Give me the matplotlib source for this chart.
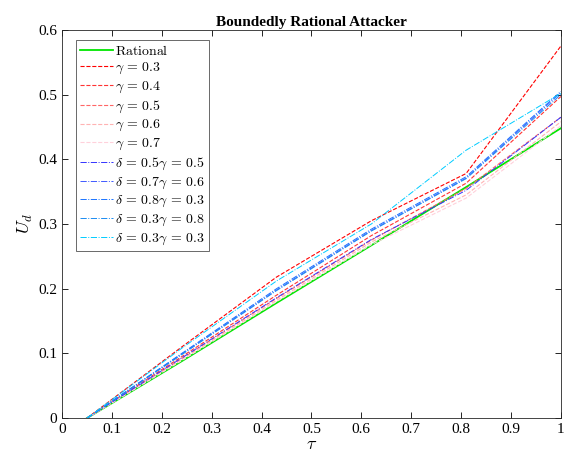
import matplotlib.pyplot as plt

plt.rcParams['font.family'] = ['Liberation Serif', 'DejaVu Serif']
plt.rcParams['mathtext.fontset'] = 'cm'

# tau sample points and attacker utility curves
tau = [0.05, 0.24, 0.43, 0.62, 0.81, 1.0]

rational = [0, 0.088, 0.178, 0.267, 0.357, 0.448]
gamma_03 = [0, 0.110, 0.218, 0.305, 0.378, 0.575]
gamma_04 = [0, 0.095, 0.190, 0.282, 0.363, 0.497]
gamma_05 = [0, 0.092, 0.185, 0.275, 0.355, 0.465]
gamma_06 = [0, 0.090, 0.182, 0.272, 0.345, 0.458]
gamma_07 = [0, 0.089, 0.180, 0.268, 0.340, 0.452]
d05_g05 = [0, 0.093, 0.186, 0.276, 0.352, 0.465]
d07_g06 = [0, 0.099, 0.198, 0.290, 0.371, 0.503]
d08_g03 = [0, 0.100, 0.200, 0.292, 0.373, 0.505]
d03_g08 = [0, 0.098, 0.197, 0.289, 0.370, 0.500]
d03_g03 = [0, 0.108, 0.212, 0.300, 0.414, 0.502]

series = [
    (rational, r'$\mathrm{Rational}$', (0.0, 0.9, 0.0), '-', 1.3),
    (gamma_03, r'$\gamma\,=\,0.3$', (1.0, 0.0, 0.0), '--', 0.8),
    (gamma_04, r'$\gamma\,=\,0.4$', (1.0, 0.2, 0.2), '--', 0.8),
    (gamma_05, r'$\gamma\,=\,0.5$', (1.0, 0.4, 0.4), '--', 0.8),
    (gamma_06, r'$\gamma\,=\,0.6$', (1.0, 0.7, 0.7), '--', 0.8),
    (gamma_07, r'$\gamma\,=\,0.7$', (1.0, 0.82, 0.86), '--', 0.8),
    (d05_g05, r'$\delta\,=\,0.5\gamma\,=\,0.5$', (0.2, 0.2, 1.0), '-.', 0.7),
    (d07_g06, r'$\delta\,=\,0.7\gamma\,=\,0.6$', (0.25, 0.35, 1.0), '-.', 0.7),
    (d08_g03, r'$\delta\,=\,0.8\gamma\,=\,0.3$', (0.1, 0.45, 1.0), '-.', 0.7),
    (d03_g08, r'$\delta\,=\,0.3\gamma\,=\,0.8$', (0.1, 0.55, 0.95), '-.', 0.7),
    (d03_g03, r'$\delta\,=\,0.3\gamma\,=\,0.3$', (0.0, 0.8, 1.0), '-.', 0.7),
]

fig, ax = plt.subplots(figsize=(5.66, 4.59), dpi=100)
fig.subplots_adjust(left=0.1095, right=0.991, bottom=0.089, top=0.935)

for y, label, color, ls, lw in series:
    ax.plot(tau, y, linestyle=ls, color=color, linewidth=lw, label=label)

ax.set_xlim(0, 1)
ax.set_ylim(0, 0.6)
ax.set_xticks([0, 0.1, 0.2, 0.3, 0.4, 0.5, 0.6, 0.7, 0.8, 0.9, 1])
ax.set_xticklabels(['0', '0.1', '0.2', '0.3', '0.4', '0.5', '0.6', '0.7', '0.8', '0.9', '1'])
ax.set_yticks([0, 0.1, 0.2, 0.3, 0.4, 0.5, 0.6])
ax.set_yticklabels(['0', '0.1', '0.2', '0.3', '0.4', '0.5', '0.6'])
ax.tick_params(direction='in', top=True, right=True, labelsize=11, length=4, width=0.6)
for s in ax.spines.values():
    s.set_linewidth(0.6)
    s.set_color('#262626')

ax.set_xlabel(r'$\tau$', fontsize=13, labelpad=0)
ax.set_ylabel(r'$U_d$', fontsize=13, labelpad=2)
ax.set_title('Boundedly Rational Attacker', fontsize=11, fontweight='bold', pad=3)

leg = ax.legend(loc='upper left', bbox_to_anchor=(0.028, 0.975), fontsize=10,
                frameon=True, fancybox=False, edgecolor='#262626',
                handlelength=2.4, handletextpad=0.1, labelspacing=0.25,
                borderpad=0.3, borderaxespad=0)
leg.get_frame().set_linewidth(0.6)

fig.savefig('out.png')
